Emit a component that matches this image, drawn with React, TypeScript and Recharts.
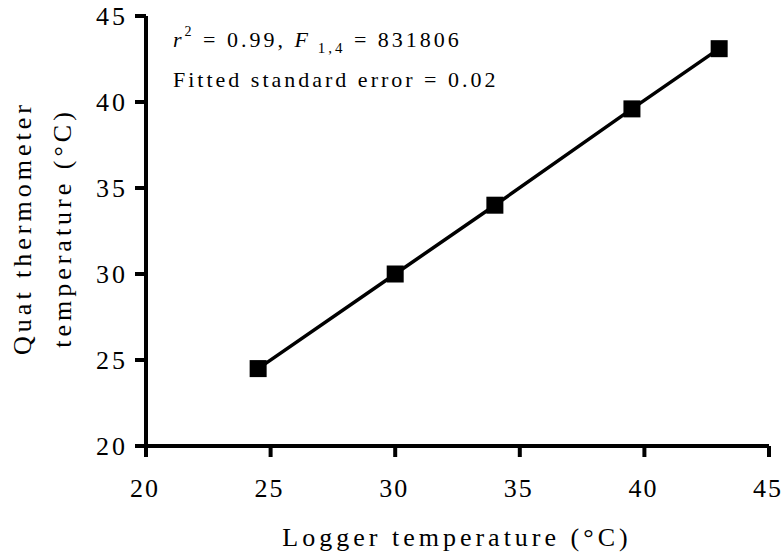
import { ScatterChart, Scatter, XAxis, YAxis } from 'recharts';

// logger reading vs quat thermometer reading, °C
const loggerTemps = [24.5, 30, 34, 39.5, 43];
const quatTemps = [24.5, 30, 34, 39.6, 43.1];
const xTicks = [20, 25, 30, 35, 40, 45];
const yTicks = [20, 25, 30, 35, 40, 45];

const points = loggerTemps.map((x, i) => ({ x, y: quatTemps[i] }));

const FONT = 'Liberation Serif';
const INK = '#000';

function XTick({ x, y, payload }: any) {
  return (
    <text x={x} y={y} dy={40} dx={-1} textAnchor="middle" style={{ fontFamily: FONT }} fontSize={26} letterSpacing={2} fill={INK}>
      {payload.value}
    </text>
  );
}

function YTick({ x, y, payload }: any) {
  return (
    <text x={x} y={y} dy={9} textAnchor="end" style={{ fontFamily: FONT }} fontSize={26} letterSpacing={3} fill={INK}>
      {payload.value}
    </text>
  );
}

function SquareDot({ cx, cy }: any) {
  if (cx == null || cy == null) return null;
  const s = 17;
  return <rect x={cx - s / 2} y={cy - s / 2} width={s} height={s} fill={INK} />;
}

export default function App() {
  return (
    <div style={{ position: 'absolute', left: 0, top: 0, width: 783, height: 558, background: '#fff', fontFamily: FONT }}>
      <ScatterChart width={783} height={558} margin={{ top: 16, right: 14, bottom: 42, left: 0 }}>
        <XAxis
          type="number"
          dataKey="x"
          domain={[20, 45]}
          ticks={xTicks}
          height={70}
          tickSize={11}
          tickMargin={0}
          axisLine={{ stroke: INK, strokeWidth: 4 }}
          tickLine={{ stroke: INK, strokeWidth: 4 }}
          tick={<XTick />}
        />
        <YAxis
          type="number"
          dataKey="y"
          domain={[20, 45]}
          ticks={yTicks}
          width={146}
          tickSize={11}
          tickMargin={7}
          axisLine={{ stroke: INK, strokeWidth: 4 }}
          tickLine={{ stroke: INK, strokeWidth: 4 }}
          tick={<YTick />}
        />
        <Scatter
          data={points}
          fill={INK}
          line={{ stroke: INK, strokeWidth: 3.5 }}
          shape={<SquareDot />}
          isAnimationActive={false}
        />
        <text x={457} y={546} textAnchor="middle" style={{ fontFamily: FONT }} fontSize={26} letterSpacing={4} fill={INK}>
          Logger temperature (°C)
        </text>
        <g transform="translate(31,228) rotate(-90)">
          <text x={0} y={0} textAnchor="middle" style={{ fontFamily: FONT }} fontSize={26} letterSpacing={4} fill={INK}>
            Quat thermometer
          </text>
          <text x={0} y={40} textAnchor="middle" style={{ fontFamily: FONT }} fontSize={26} letterSpacing={4} fill={INK}>
            temperature (°C)
          </text>
        </g>
        <text x={173} y={47} style={{ fontFamily: FONT }} fontSize={22} letterSpacing={3} fill={INK}>
          <tspan fontStyle="italic">r</tspan>
          <tspan fontSize={14} dy={-11}>2</tspan>
          <tspan dy={11}> = 0.99, </tspan>
          <tspan fontStyle="italic">F</tspan>
          <tspan fontSize={15} dy={6}> 1,4</tspan>
          <tspan dy={-6}> = 831806</tspan>
        </text>
        <text x={173} y={87} style={{ fontFamily: FONT }} fontSize={22} letterSpacing={3} fill={INK}>
          Fitted standard error = 0.02
        </text>
      </ScatterChart>
    </div>
  );
}
